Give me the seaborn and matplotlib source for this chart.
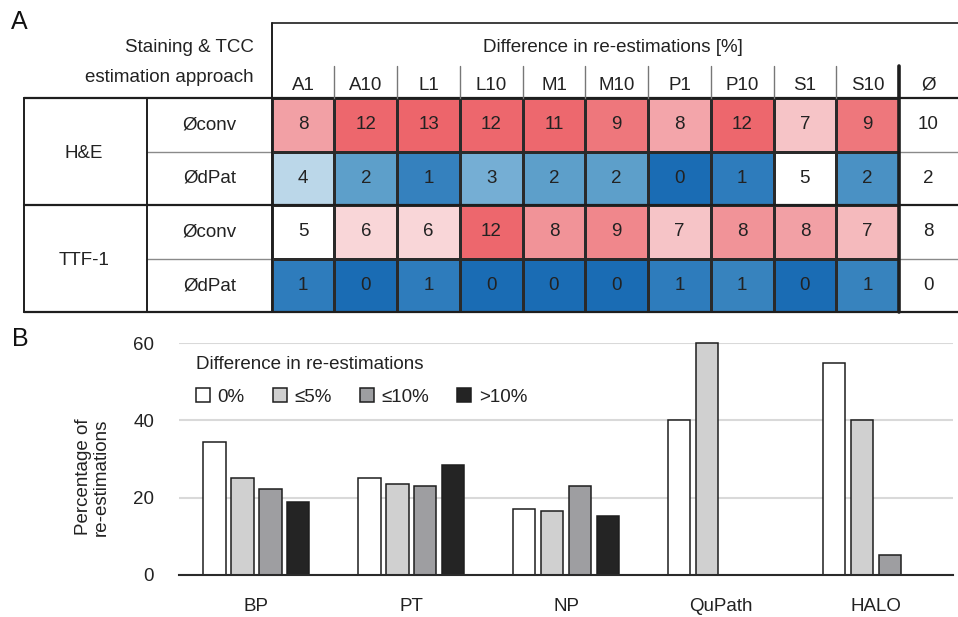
import numpy as np
import pandas as pd
import seaborn as sns
import matplotlib.pyplot as plt
from matplotlib.colors import LinearSegmentedColormap, ListedColormap
from matplotlib.patches import Patch

# ---- panel A data (colour follows the unrounded value, the cell shows the rounded one)
methods = ["A1", "A10", "L1", "L10", "M1", "M10", "P1", "P10", "S1", "S10"]
stains = ["H&E", "TTF-1"]
approaches = ["Øconv", "ØdPat"]
he_conv = [8.0, 12.0, 13.0, 12.0, 11.0, 9.0, 7.85, 12.0, 7.0, 9.0]
he_dpat = [4.0, 2.0, 1.15, 3.0, 2.0, 2.0, 0.0, 1.0, 5.0, 1.6]
ttf_conv = [5.0, 6.0, 6.0, 12.0, 8.3, 8.6, 7.0, 8.3, 8.0, 7.3]
ttf_dpat = [1.0, 0.0, 1.0, 0.0, 0.0, 0.0, 1.0, 1.2, 0.0, 1.2]
overall = [10, 2, 8, 0]

# ---- panel B data
tools = ["BP", "PT", "NP", "QuPath", "HALO"]
diff_classes = ["0%", "≤5%", "≤10%", ">10%"]
share_0 = [34.4, 25.0, 17.1, 40.0, 55.0]
share_5 = [25.0, 23.6, 16.5, 60.0, 40.0]
share_10 = [22.2, 23.0, 23.0, np.nan, 5.0]
share_gt10 = [18.8, 28.5, 15.1, np.nan, np.nan]

sns.set_theme(style="white")
plt.rcParams["font.family"] = ["Liberation Sans", "DejaVu Sans"]
txt = "#222222"
fs = 13.5

W, H = 958, 617
fig = plt.figure(figsize=(W / 100, H / 100), dpi=100)


def px_box(x0, y0, x1, y1):
    return [x0 / W, 1 - y1 / H, (x1 - x0) / W, (y1 - y0) / H]


# colour scale: blue -> white at 5 -> red
nodes = [(0, "#1A6CB4"), (1, "#2F7DBC"), (2, "#5E9FCA"), (3, "#74AED4"),
         (4, "#BDD8EA"), (5, "#FFFFFF"), (6, "#F9D6D8"), (7, "#F6C4C7"),
         (8, "#F2A0A5"), (9, "#EE777C"), (10, "#ED6A70"), (13, "#ED656B")]
cmap = LinearSegmentedColormap.from_list("diff", [(v / 13, c) for v, c in nodes])

heat = pd.DataFrame([he_conv, he_dpat, ttf_conv, ttf_dpat], columns=methods)

hx0, hx1, hy0, hy1 = 271.7, 899.0, 98.0, 312.3
axh = fig.add_axes(px_box(hx0, hy0, hx1, hy1))
sns.heatmap(heat, ax=axh, cmap=cmap, vmin=0, vmax=13, cbar=False,
            annot=True, fmt=".0f", annot_kws={"size": fs, "color": txt},
            linewidths=0.8, linecolor="#2a2a2a", yticklabels=False)
axh.xaxis.tick_top()
axh.tick_params(axis="x", length=0, pad=3, labelsize=fs, labelcolor=txt, rotation=0)
axh.set_xlabel("")
axh.set_ylabel("")

axo = fig.add_axes(px_box(hx1, hy0, W, hy1))
sns.heatmap(pd.DataFrame({"Ø": overall}), ax=axo, cmap=ListedColormap(["white"]),
            cbar=False, annot=True, fmt="d", annot_kws={"size": fs, "color": txt},
            yticklabels=False)
axo.xaxis.tick_top()
axo.tick_params(axis="x", length=0, pad=3, labelsize=fs, labelcolor=txt, rotation=0)
axo.set_xlabel("")

# ---- panel B
rows = []
for tool, a, b, c, d in zip(tools, share_0, share_5, share_10, share_gt10):
    for cls, v in zip(diff_classes, [a, b, c, d]):
        rows.append({"tool": tool, "cls": cls, "pct": v})
bars = pd.DataFrame(rows).dropna()

fills = ["#FFFFFF", "#D0D0D0", "#9D9EA1", "#242424"]
axb = fig.add_axes(px_box(179, 343.3, 953.3, 574.7))
sns.barplot(data=bars, x="tool", y="pct", hue="cls", order=tools,
            hue_order=diff_classes, palette=fills, edgecolor="#1e1e1e",
            linewidth=1.1, width=0.72, gap=0.2, legend=False, ax=axb)
for p in axb.patches:
    p.set_clip_on(False)
axb.set_ylim(0, 60)
axb.set_yticks([0, 20, 40, 60])
axb.set_axisbelow(True)
axb.grid(axis="y", color="#D9D9D9", linewidth=1.5)
for side in ["left", "right", "top"]:
    axb.spines[side].set_visible(False)
axb.spines["bottom"].set_color("#2a2a2a")
axb.spines["bottom"].set_linewidth(1.5)
axb.tick_params(axis="both", length=0, labelsize=fs, labelcolor=txt)
axb.tick_params(axis="y", pad=18)
axb.tick_params(axis="x", pad=17)
axb.set_xlabel("")
axb.set_ylabel("")

handles = [Patch(facecolor=f, edgecolor="#1e1e1e", linewidth=1.1) for f in fills]
leg = axb.legend(handles, diff_classes, title="Difference in re-estimations",
                 ncol=4, frameon=False, loc="upper left", bbox_to_anchor=(0.0, 1.02),
                 alignment="left", fontsize=fs, title_fontsize=fs,
                 handlelength=0.75, handleheight=0.75, handletextpad=0.4,
                 columnspacing=1.5, labelspacing=0.85)
leg.get_title().set_color(txt)
for t in leg.get_texts():
    t.set_color(txt)

# ---- overlay for table frame and labels (pixel coordinates)
ov = fig.add_axes([0, 0, 1, 1])
ov.set_xlim(0, W)
ov.set_ylim(H, 0)
ov.axis("off")

dark = "#1e1e1e"
ov.plot([hx0, W], [22.7, 22.7], color=dark, lw=1.2)
for y in [hy0, 205.0, hy1]:
    ov.plot([24, W], [y, y], color=dark, lw=1.6)
for y in [152.3, 259.3]:
    ov.plot([147.3, hx0], [y, y], color="#8a8a8a", lw=1.0)
    ov.plot([hx1, W], [y, y], color="#8a8a8a", lw=1.0)
for x in [24, 147.3]:
    ov.plot([x, x], [hy0, hy1], color=dark, lw=1.4)
ov.plot([hx0, hx0], [22.7, hy1], color=dark, lw=1.4)
ov.plot([hx1, hx1], [65.7, hy1], color=dark, lw=2.6)
colw = (hx1 - hx0) / len(methods)
for i in range(1, len(methods)):
    xb = hx0 + i * colw
    ov.plot([xb, xb], [65.7, hy0], color="#777777", lw=1.0)

ov.text(254, 47.7, "Staining & TCC", ha="right", va="center", fontsize=fs, color=txt)
ov.text(254, 77.7, "estimation approach", ha="right", va="center", fontsize=fs, color=txt)
ov.text(613, 47.7, "Difference in re-estimations [%]", ha="center", va="center",
        fontsize=fs, color=txt)
row_h = (hy1 - hy0) / 4
for k, stain in enumerate(stains):
    ov.text(84, hy0 + (2 * k + 1) * row_h + 2, stain, ha="center", va="center",
            fontsize=fs, color=txt)
    for j, appr in enumerate(approaches):
        ov.text(209.5, hy0 + (2 * k + j + 0.5) * row_h, appr, ha="center",
                va="center", fontsize=fs, color=txt)

ov.text(11, 22, "A", ha="left", va="center", fontsize=18, color="#111111")
ov.text(12, 339, "B", ha="left", va="center", fontsize=18, color="#111111")
ov.text(92, 477, "Percentage of\nre-estimations", ha="center", va="center",
        rotation=90, fontsize=fs, color=txt, linespacing=1.05)

fig.savefig("out.png", dpi=100)
